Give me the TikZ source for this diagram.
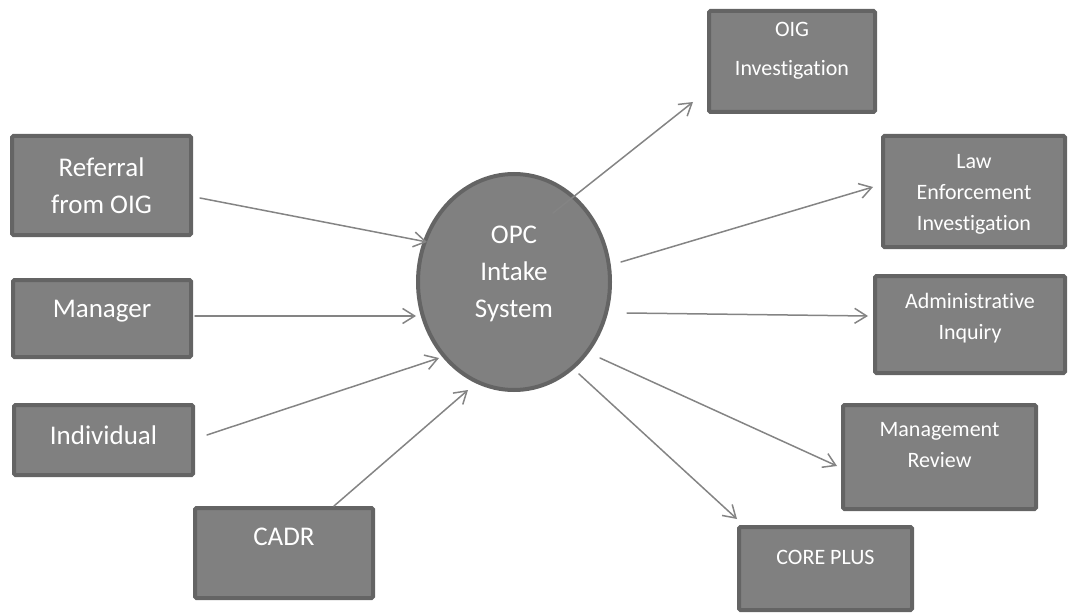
\documentclass[tikz,border=0pt]{standalone}
\usepackage{fontspec}
\setmainfont{Carlito}[Ligatures=NoCommon]
\usetikzlibrary{shapes.geometric,arrows.meta,calc}
\definecolor{boxfill}{RGB}{128,128,128}
\definecolor{boxline}{RGB}{100,100,100}
\definecolor{arrline}{RGB}{132,132,132}
\begin{document}
\begin{tikzpicture}[x=1pt,y=-1pt,
  boxnode/.style={draw=boxline, fill=boxfill, line width=4pt, rounded corners=1.5pt,
    inner sep=0pt, outer sep=0pt, rectangle},
  bigtext/.style={text=white, align=center, inner sep=0pt, font=\fontsize{27}{37}\selectfont},
  smalltext/.style={text=white, align=center, inner sep=0pt, font=\fontsize{22}{31}\selectfont},
  arr/.style={draw=arrline, line width=1.5pt, line cap=round,
    -{Straight Barb[length=12pt, width=15pt, line width=1.5pt]}}
]
\useasboundingbox (0,0) rectangle (1074,615);

% left boxes
\node[boxnode, minimum width=179pt, minimum height=99pt] (ref) at (101.5,185.5) {};
\node[bigtext] (refT) at (101.5,186) {Referral\\from OIG};
\node[boxnode, minimum width=178pt, minimum height=77pt] (mgr) at (102,318.5) {};
\node[bigtext] (mgrT) at (102,311) {Manager};
\node[boxnode, minimum width=179pt, minimum height=70pt] (ind) at (103.5,440) {};
\node[bigtext] (indT) at (103.5,435) {Individual};
\node[boxnode, minimum width=178pt, minimum height=90pt] (cadr) at (284,553) {};
\node[bigtext] (cadrT) at (284,537) {CADR};

% centre
\node[ellipse, draw=boxline, fill=boxfill, line width=4pt, minimum width=192pt,
  minimum height=216pt, inner sep=0pt, outer sep=0pt] (opc) at (514,282) {};
\node[bigtext] (opcT) at (514,274) {OPC\\Intake\\System};

% right boxes
\node[boxnode, minimum width=166pt, minimum height=101pt] (oig) at (792,61.5) {};
\node[smalltext, font=\fontsize{22}{39}\selectfont] (oigT) at (792,51) {OIG\\Investigation};
\node[boxnode, minimum width=182pt, minimum height=111pt] (law) at (974,191.5) {};
\node[smalltext] (lawT) at (974,194) {Law\\Enforcement\\Investigation};
\node[boxnode, minimum width=190pt, minimum height=97pt] (adm) at (970,324.5) {};
\node[smalltext] (admT) at (970,318) {Administrative\\Inquiry};
\node[boxnode, minimum width=193pt, minimum height=104pt] (mgt) at (939.5,457) {};
\node[smalltext] (mgtT) at (939.5,445) {Management\\Review};
\node[boxnode, minimum width=173pt, minimum height=83pt] (core) at (825.5,568.5) {};
\node[smalltext] (coreT) at (825.5,557) {CORE PLUS};

% connectors
\draw[arr] ($(ref.center)+(98.5,12.5)$) -- ($(opc.center)+(-87,-40)$);
\draw[arr] ($(mgr.center)+(93,-2.5)$) -- ($(opc.center)+(-98,34)$);
\draw[arr] ($(ind.center)+(103.5,-5)$) -- ($(opc.center)+(-75,76)$);
\draw[arr] ($(cadr.center)+(50,-47)$) -- ($(opc.center)+(-46,108)$);
\draw[arr] ($(opc.center)+(39,-69)$) -- ($(oig.center)+(-99,40.5)$);
\draw[arr] ($(opc.center)+(107,-20)$) -- ($(law.center)+(-101,-4.5)$);
\draw[arr] ($(opc.center)+(113,31)$) -- ($(adm.center)+(-102,-8.5)$);
\draw[arr] ($(opc.center)+(86,76)$) -- ($(mgt.center)+(-102.5,9)$);
\draw[arr] ($(opc.center)+(65,92)$) -- ($(core.center)+(-88.5,-49.5)$);
\end{tikzpicture}
\end{document}
